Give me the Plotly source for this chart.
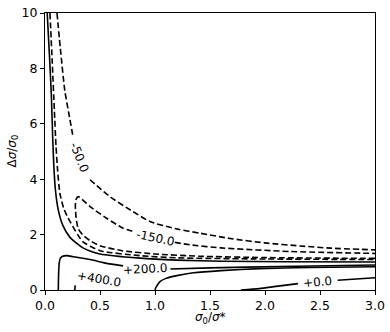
import plotly.graph_objects as go

# contour polylines (x = sigma0/sigma*, y = dsigma/sigma0); None = label gap
s1_x = [0.02, 0.04, 0.058, 0.07, 0.08, 0.095, 0.12, 0.16, 0.227, 0.345, 0.5, 0.864, 1.2, 1.6, 2.2, 3.0]
s1_y = [10, 8.5, 7.0, 5.5, 4.5, 3.6, 2.9, 2.35, 1.9, 1.52, 1.3, 1.15, 1.08, 1.04, 1.02, 1.01]

da_x = [0.045, 0.065, 0.085, 0.1, 0.115, 0.135, 0.17, 0.21, 0.3, 0.345, 0.5, 0.864, 1.2, 2.0, 3.0]
da_y = [10, 8.3, 6.5, 5.2, 4.3, 3.5, 2.95, 2.6, 1.98, 1.74, 1.42, 1.24, 1.16, 1.12, 1.10]

d150_x = [3.0, 2.0, 1.4, 1.0, 0.7, 0.5, 0.41, 0.345, 0.303, 0.283, 0.276, 0.28, 0.303,
          0.41, 0.56, 0.71, 0.8, None, 1.18, 1.32, 1.6, 2.23, 3.0]
d150_y = [1.14, 1.17, 1.22, 1.3, 1.42, 1.6, 1.78, 1.98, 2.2, 2.6, 3.0, 3.25, 3.37,
          3.01, 2.59, 2.23, 2.11, None, 1.72, 1.63, 1.52, 1.39, 1.32]

d50_x = [0.109, 0.145, 0.18, 0.22, 0.255, None, 0.409, 0.59, 0.8, 0.955, 1.2, 1.41, 1.7, 2.0, 2.32, 2.6, 3.0]
d50_y = [10, 8.5, 7.2, 6.3, 5.53, None, 3.98, 3.37, 2.83, 2.47, 2.2, 2.05, 1.85, 1.7, 1.59, 1.51, 1.45]

s200_x = [0.121, 0.122, 0.125, 0.13, 0.14, 0.16, 0.2, 0.257, 0.41, 0.55, 0.71, None, 1.14, 1.5, 2.14, 3.0]
s200_y = [0, 0.3, 0.7, 1.0, 1.15, 1.22, 1.24, 1.2, 1.1, 0.97, 0.87, None, 0.76, 0.8, 0.85, 0.9]

s400_x = [0.27, 0.275]
s400_y = [0, 0.17]

s1b_x = [1.0, 1.01, 1.045, 1.1, 1.2, 1.35, 1.6, 1.95, 2.4, 3.0]
s1b_y = [0, 0.1, 0.3, 0.42, 0.52, 0.62, 0.7, 0.77, 0.81, 0.84]

s0_x = [1.78, 1.95, 2.1, 2.3, None, 2.66, 3.0]
s0_y = [0, 0.05, 0.13, 0.23, None, 0.35, 0.44]

label_text = ["-50.0", "-150.0", "+200.0", "+400.0", "+0.0"]
label_x = [0.31, 1.0, 0.91, 0.49, 2.48]
label_y = [4.8, 1.88, 0.76, 0.40, 0.29]
label_angle = [68, 12, -3, 10, -5]

x_ticks = [0.0, 0.5, 1.0, 1.5, 2.0, 2.5, 3.0]
y_ticks = [0, 2, 4, 6, 8, 10]
x_title = "<i>σ</i><sub>0</sub>/<i>σ</i>*"
y_title = "Δ<i>σ</i>/<i>σ</i><sub>0</sub>"

FONT = "DejaVu Sans"
fig = go.Figure()

solid = dict(color="black", width=1.6, shape="spline", smoothing=0.6)
dashed = dict(color="black", width=1.6, dash="6px,3px", shape="spline", smoothing=0.6)

for xs, ys, ln in [
    (s1_x, s1_y, solid), (da_x, da_y, dashed), (d150_x, d150_y, dashed),
    (d50_x, d50_y, dashed), (s200_x, s200_y, solid), (s400_x, s400_y, solid),
    (s1b_x, s1b_y, solid), (s0_x, s0_y, solid),
]:
    fig.add_trace(go.Scatter(x=xs, y=ys, mode="lines", line=ln, connectgaps=False,
                             hoverinfo="skip", showlegend=False))

for t, x, y, a in zip(label_text, label_x, label_y, label_angle):
    fig.add_annotation(x=x, y=y, text=t, textangle=a, showarrow=False,
                       font=dict(family=FONT, size=12, color="black"))

# axis titles
fig.add_annotation(x=0.5, y=0, xref="paper", yref="paper", text=x_title, showarrow=False,
                   yanchor="middle", yshift=-28, font=dict(family=FONT, size=12, color="black"))
fig.add_annotation(x=0, y=0.5, xref="paper", yref="paper", text=y_title, showarrow=False,
                   textangle=-90, xanchor="center", xshift=-33,
                   font=dict(family=FONT, size=12, color="black"))

axis_common = dict(showline=True, linecolor="black", linewidth=1, mirror=True,
                   ticks="outside", ticklen=4, tickcolor="black", showgrid=False,
                   zeroline=False, automargin=False,
                   tickfont=dict(family=FONT, size=12.5, color="black"))

fig.update_xaxes(range=[0, 3], tickvals=x_ticks, ticktext=[f"{v:.1f}" for v in x_ticks], **axis_common)
fig.update_yaxes(range=[0, 10], tickvals=y_ticks, ticktext=[str(v) for v in y_ticks], **axis_common)

fig.update_layout(width=390, height=332, margin=dict(l=45, r=15, t=13, b=42),
                  plot_bgcolor="white", paper_bgcolor="white")

fig.write_html("out.html", post_script="document.body.style.margin='0px';",
               config={"displayModeBar": False})
